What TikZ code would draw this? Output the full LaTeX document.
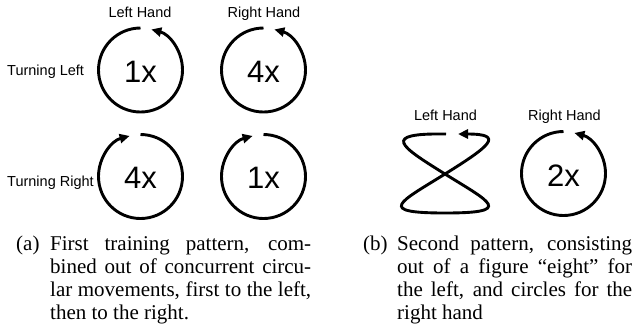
\documentclass[tikz,border=0pt]{standalone}
\usepackage{fontspec}
\setmainfont{Liberation Serif}
\setsansfont{Liberation Sans}
\usetikzlibrary{arrows.meta}
\tikzset{
  stroke/.style={line width=2.9pt},
  arr/.style={stroke, -{Triangle[length=10pt,width=9pt]}},
  lbl/.style={font=\sffamily\fontsize{14.5}{17}\selectfont, inner sep=0pt},
  num/.style={font=\sffamily\fontsize{31}{36}\selectfont, inner sep=0pt, anchor=base},
  captext/.style={font=\rmfamily\fontsize{21}{23.3}\selectfont, inner sep=0pt, anchor=base west},
}
\begin{document}
\begin{tikzpicture}[x=1pt,y=-1pt]
\useasboundingbox (0,0) rectangle (634,333);
% circle centres
\coordinate (ca) at (140.5,70);
\coordinate (cb) at (263.5,70);
\coordinate (cc) at (140.5,176.5);
\coordinate (cd) at (263.5,176.5);
\coordinate (ce) at (563.5,173.5);
% labels (a)
\node[lbl, anchor=base] (lha) at (140,17.7) {Left Hand};
\node[lbl, anchor=base] (rha) at (264,17.7) {Right Hand};
\node[lbl, anchor=base west] (tl) at (7,75.5) {Turning Left};
\node[lbl, anchor=base west] (tr) at (7,186) {Turning Right};
% turning left circles (counter-clockwise)
\draw[arr] ([shift={(-90:42)}]ca) arc[start angle=-90, end angle=-435, radius=42];
\draw[arr] ([shift={(-90:42)}]cb) arc[start angle=-90, end angle=-435, radius=42];
% turning right circles (clockwise)
\draw[arr] ([shift={(-90:42)}]cc) arc[start angle=-90, end angle=255, radius=42];
\draw[arr] ([shift={(-90:42)}]cd) arc[start angle=-90, end angle=255, radius=42];
\node[num] (na) at (140.5,82) {1x};
\node[num] (nb) at (263.5,82) {4x};
\node[num] (nc) at (140.5,188.5) {4x};
\node[num] (nd) at (263.5,188.5) {1x};
% part (b)
\node[lbl, anchor=base] (lhb) at (445.5,120.5) {Left Hand};
\node[lbl, anchor=base] (rhb) at (564.5,120.5) {Right Hand};
\draw[arr] (446,134) .. controls (380,133) and (400,146) .. (445,174)
  .. controls (490,202) and (515,213) .. (445,213)
  .. controls (375,213) and (400,202) .. (445,174)
  .. controls (490,146) and (505,134) .. (458,134);
\draw[arr] ([shift={(-90:42)}]ce) arc[start angle=-90, end angle=-435, radius=42];
\node[num] (ne) at (563.5,186) {2x};
% captions
\node[captext] (capa) at (16,250) {\makebox[34pt][l]{(a)}\parbox[t]{261pt}{%
\makebox[\linewidth][s]{First training pattern, com-}\\
\makebox[\linewidth][s]{bined out of concurrent circu-}\\
\makebox[\linewidth][s]{lar movements, first to the left,}\\
then to the right.}};
\node[captext] (capb) at (363,250) {\makebox[34pt][l]{(b)}\parbox[t]{235pt}{%
\makebox[\linewidth][s]{Second pattern, consisting}\\
\makebox[\linewidth][s]{out of a figure “eight” for}\\
\makebox[\linewidth][s]{the left, and circles for the}\\
right hand}};
\end{tikzpicture}
\end{document}
